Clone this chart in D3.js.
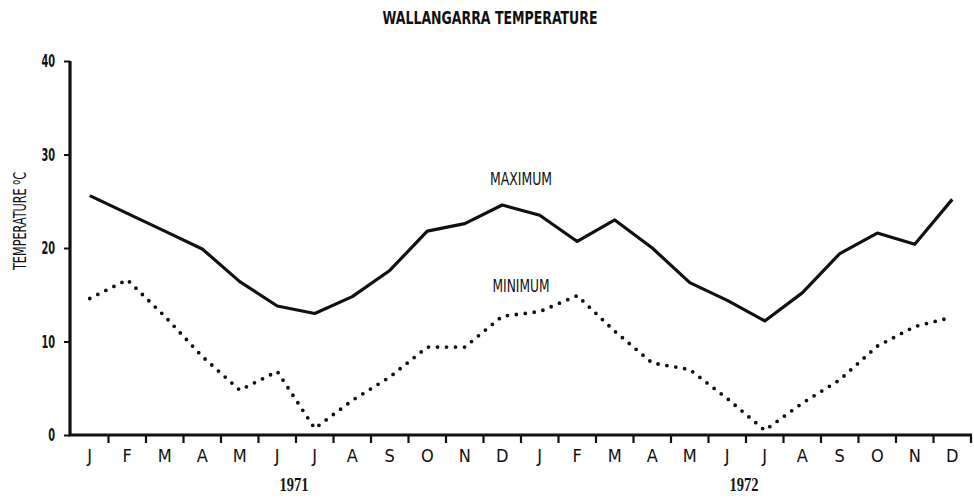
<!DOCTYPE html>
<html>
<head>
<meta charset="utf-8">
<script src="https://cdn.jsdelivr.net/npm/d3@7"></script>
<style>
  body { margin: 0; background: #fff; }
  text { font-family: "Liberation Sans Narrow", "DejaVu Sans Condensed", sans-serif; fill: #111; }
</style>
</head>
<body>
<div id="chart"></div>
<script>
var months = ["J", "F", "M", "A", "M", "J", "J", "A", "S", "O", "N", "D"];
var years = ["1971", "1972"];
var maxTemp = [25.6, 23.7, 21.8, 19.9, 16.4, 13.8, 13.0, 14.8, 17.6, 21.8, 22.6, 24.6,
               23.5, 20.7, 23.0, 20.0, 16.3, 14.4, 12.2, 15.2, 19.4, 21.6, 20.4, 25.2];
var minTemp = [14.6, 16.6, 12.7, 8.4, 4.8, 6.8, 0.7, 3.7, 6.2, 9.4, 9.4, 12.7,
               13.2, 14.9, 11.1, 7.7, 7.0, 3.9, 0.5, 3.4, 5.9, 9.5, 11.6, 12.6];
var yTicks = [0, 10, 20, 30, 40];

var width = 974;
var height = 499;
var narrow = "'Liberation Sans Narrow', 'DejaVu Sans Condensed', sans-serif";

// one key per month, e.g. "1971-0"
var keys = [];
years.forEach(function (y) {
    months.forEach(function (m, i) { keys.push(y + "-" + i); });
});

var svg = d3.select("#chart")
    .append("svg")
    .attr("width", width)
    .attr("height", height);

var xScale = d3.scaleBand()
    .domain(keys)
    .range([71, 971]);
var bw = xScale.bandwidth();
function cx(i) { return xScale(keys[i]) + bw / 2; }

var yScale = d3.scaleLinear()
    .domain([0, 40])
    .range([435, 61]);

// Title
svg.append("text")
    .attr("x", 490)
    .attr("y", 24)
    .attr("text-anchor", "middle")
    .attr("font-size", "18px")
    .attr("font-weight", "bold")
    .attr("textLength", 215)
    .attr("lengthAdjust", "spacingAndGlyphs")
    .text("WALLANGARRA TEMPERATURE");

// Y axis
var yAxis = svg.append("g")
    .attr("transform", "translate(70,0)")
    .call(d3.axisLeft(yScale).tickValues(yTicks).tickSize(6).tickPadding(9));
yAxis.select(".domain").remove();
yAxis.selectAll(".tick line").attr("stroke", "#111").attr("stroke-width", 2);
yAxis.selectAll(".tick text")
    .attr("font-family", narrow)
    .attr("font-size", "18px")
    .attr("font-weight", "bold")
    .attr("fill", "#111")
    .attr("textLength", function (d) { return String(d).length * 6.8; })
    .attr("lengthAdjust", "spacingAndGlyphs");

// X axis labels (centred in each month band)
var xAxis = svg.append("g")
    .attr("transform", "translate(0,435)")
    .call(d3.axisBottom(xScale).tickSize(0).tickPadding(14)
        .tickFormat(function (d) { return months[+d.split("-")[1]]; }));
xAxis.select(".domain").remove();
xAxis.selectAll(".tick text")
    .attr("font-family", narrow)
    .attr("font-size", "18px")
    .attr("fill", "#111");

// tick marks on the month boundaries
svg.append("g")
    .selectAll("line")
    .data(keys)
    .enter()
    .append("line")
    .attr("x1", function (d) { return xScale(d) + bw; })
    .attr("x2", function (d) { return xScale(d) + bw; })
    .attr("y1", 435)
    .attr("y2", 443)
    .attr("stroke", "#111")
    .attr("stroke-width", 2.2);

// axis lines
svg.append("path")
    .attr("d", "M" + 70 + "," + yScale(40) + "V" + yScale(0) + "H" + (xScale.range()[1] + 1))
    .attr("fill", "none")
    .attr("stroke", "#111")
    .attr("stroke-width", 3.2);

// Year labels
svg.selectAll(".year")
    .data(years)
    .enter()
    .append("text")
    .attr("class", "year")
    .attr("x", function (d) { return xScale(d + "-6") - 2; })
    .attr("y", 491)
    .attr("text-anchor", "middle")
    .style("font-family", "'Liberation Serif', serif")
    .attr("font-size", "18px")
    .attr("font-weight", "bold")
    .attr("textLength", 29)
    .attr("lengthAdjust", "spacingAndGlyphs")
    .text(function (d) { return d; });

// Y axis title
var yTitle = svg.append("text")
    .attr("transform", "translate(26," + 221 + ") rotate(-90)")
    .attr("text-anchor", "middle")
    .attr("font-size", "17px")
    .attr("textLength", 98)
    .attr("lengthAdjust", "spacingAndGlyphs");
yTitle.append("tspan").text("TEMPERATURE ");
yTitle.append("tspan").attr("dy", -6).attr("font-size", "12px").text("o");
yTitle.append("tspan").attr("dy", 6).text("C");

// Lines
var line = function (vals) {
    return d3.line()
        .x(function (d, i) { return cx(i); })
        .y(function (d) { return yScale(d); })(vals);
};

svg.append("path")
    .attr("d", line(maxTemp))
    .attr("fill", "none")
    .attr("stroke", "#111")
    .attr("stroke-width", 3.2)
    .attr("stroke-linejoin", "round");

svg.append("path")
    .attr("d", line(minTemp))
    .attr("fill", "none")
    .attr("stroke", "#111")
    .attr("stroke-width", 3.8)
    .attr("stroke-linecap", "round")
    .attr("stroke-dasharray", "0 9");

// series labels
svg.append("text")
    .attr("x", 521)
    .attr("y", 185)
    .attr("text-anchor", "middle")
    .attr("font-size", "17px")
    .attr("textLength", 62)
    .attr("lengthAdjust", "spacingAndGlyphs")
    .text("MAXIMUM");

svg.append("text")
    .attr("x", 521)
    .attr("y", 292)
    .attr("text-anchor", "middle")
    .attr("font-size", "17px")
    .attr("textLength", 57)
    .attr("lengthAdjust", "spacingAndGlyphs")
    .text("MINIMUM");
</script>
</body>
</html>
